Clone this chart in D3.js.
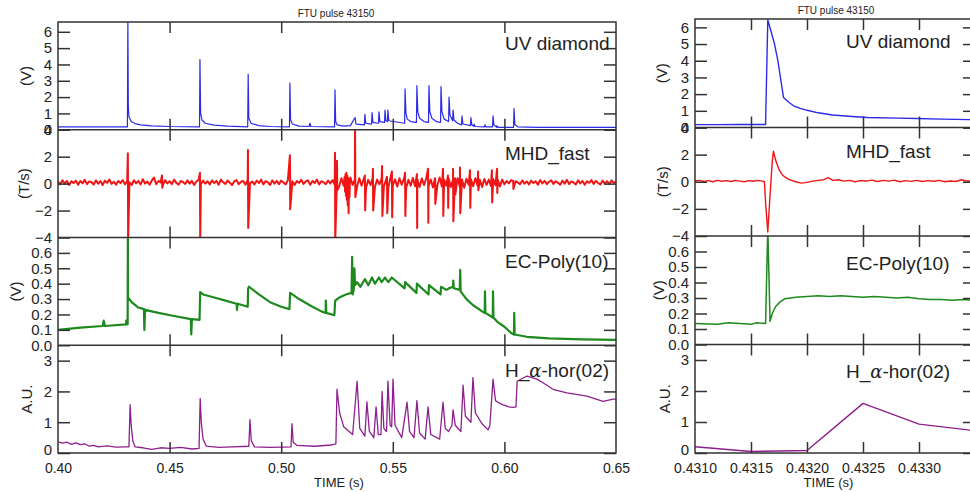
<!DOCTYPE html>
<html>
<head>
<meta charset="utf-8">
<script src="https://cdn.jsdelivr.net/npm/d3@7"></script>
<style>
  body { margin: 0; background: #fff; }
  svg { display: block; }
  text { font-family: "Liberation Sans", Arial, Helvetica, sans-serif; fill: #222; }
</style>
</head>
<body>
<svg id="chart" width="970" height="492"></svg>
<script>
// ---------- data: left panel (whole pulse) ----------
const uvLeft = [
  [0.400,0.18],[0.4311,0.18],[0.4313,6.8],[0.4315,1.4],[0.4318,0.8],[0.4328,0.5],[0.4345,0.38],[0.437,0.3],[0.442,0.24],[0.450,0.2],[0.4634,0.18],
  [0.4636,4.3],[0.4639,1.0],[0.4645,0.6],[0.466,0.4],[0.470,0.28],[0.476,0.22],[0.485,0.18],
  [0.4852,3.4],[0.4855,0.7],[0.4865,0.4],[0.490,0.25],[0.495,0.2],[0.5037,0.18],
  [0.5039,2.85],[0.5042,0.6],[0.505,0.35],[0.508,0.22],[0.5125,0.2],[0.5129,0.4],[0.5133,0.2],[0.5239,0.18],
  [0.5241,2.45],[0.5244,0.5],[0.525,0.3],[0.528,0.22],[0.531,0.25],
  [0.5331,0.75],[0.5335,0.35],[0.5373,0.3],[0.5375,0.95],[0.5379,0.4],[0.5405,0.35],[0.5407,1.05],[0.5411,0.45],
  [0.5436,0.4],[0.5438,1.1],[0.5442,0.5],[0.5463,0.45],[0.5465,1.2],[0.5469,0.55],[0.5476,0.5],[0.5478,1.2],[0.5482,0.55],
  [0.5553,0.4],[0.5555,2.5],[0.5559,1.0],[0.5565,0.65],[0.558,0.5],[0.5606,0.45],[0.5608,2.7],[0.5612,1.1],[0.562,0.7],
  [0.564,0.5],[0.566,0.45],[0.5662,2.7],[0.5666,1.1],[0.5675,0.7],[0.5695,0.5],[0.5714,0.45],[0.5716,2.65],[0.572,1.1],
  [0.573,0.65],[0.575,0.5],[0.5752,2.0],[0.5756,0.9],[0.5768,0.55],[0.577,1.2],[0.5774,0.6],[0.579,0.4],[0.5808,0.3],
  [0.581,0.85],[0.5814,0.35],[0.5848,0.25],[0.585,0.75],[0.5854,0.3],[0.5862,0.22],[0.5864,0.35],[0.5868,0.2],
  [0.5911,0.18],[0.5913,0.3],[0.5917,0.18],[0.5947,0.18],[0.5949,0.85],[0.5953,0.3],[0.5965,0.15],[0.5967,0.25],[0.5971,0.15],
  [0.6041,0.15],[0.6043,1.3],[0.6047,0.3],[0.606,0.18],[0.615,0.15],[0.650,0.15]
];

// MHD_fast noise, one value per ms from 0.400 s to 0.650 s
const mhdStart = 0.400, mhdStep = 0.001;
const mhdNoise = [
  .15,-.05,.25,0,.2,-.1,.18,.05,.22,-.08,
  .2,.02,.28,-.04,.16,.1,-.06,.24,0,.19,
  -.1,.22,.06,.3,-.02,.14,-.08,.2,.04,.26,
  -.05,.18,.1,-.1,.25,.02,.2,-.06,.32,0,
  .16,-.08,.22,.45,-.05,.2,.08,-.1,.26,.02,
  .18,-.04,.3,.06,-.08,.2,.12,-.02,.24,0,
  .2,-.1,.16,.28,-.04,.22,0,.18,-.06,.24,
  .04,.2,-.08,.3,.1,-.02,.22,.06,-.1,.18,
  .26,-.04,.14,.2,-.08,.28,.02,.16,-.06,.22,
  .05,.3,-.05,.18,.1,-.1,.24,0,.2,-.04,
  .22,.08,-.06,.26,.02,.18,-.1,.2,.06,.28,
  -.02,.16,.24,-.08,.2,.04,.3,-.06,.18,.1,
  -.04,.22,.02,.26,-.08,
  .35,-.2,.4,-.15,.3,-.25,.45,-.1,.3,-.2,
  .4,-.15,.35,-.3,.28,-.1,.42,-.25,.3,-.05,
  .38,-.2,.3,-.28,.45,-.12,.32,-.22,.4,-.08,
  .35,-.3,.28,-.15,.42,-.2,.3,-.25,.38,-.1,
  .4,-.18,.3,-.28,.35,-.1,.45,-.22,.28,-.15,
  .38,-.25,.32,-.12,.4,-.2,.3,-.3,.36,-.08,
  .32,-.2,.4,-.15,.28,-.25,.35,-.1,.3,-.18,
  .34,-.12,.28,-.2,.3,-.05,
  .2,.02,.26,-.06,.18,.08,-.04,.24,0,.16,
  -.06,.22,.04,.18,-.08,.26,.02,.2,-.04,.14,
  .24,-.02,.18,.06,-.08,.22,0,.28,-.04,.16,
  .08,-.06,.24,.02,.2,-.08,.18,.06,.26,-.02,
  .2,.04,-.06,.22,0,.18,-.04,.24,.06,.14
];
// MHD_fast spikes: [time, max, min]
const mhdSpikes = [
  [0.4313,2.25,-4.2],[0.4466,0.6,-0.3],[0.4636,0.8,-4.2],[0.4851,2.5,-3.3],[0.5039,2.1,-1.9],
  [0.5241,2.3,-4.2],[0.5250,1.7,-0.5],[0.5331,4.2,-1.0],[0.5375,0.6,-2.0],[0.5411,1.1,-2.0],
  [0.5452,1.3,-2.4],[0.5474,0.5,-2.2],[0.5496,0.9,-2.5],[0.5555,0.8,-2.4],[0.5608,0.7,-3.3],
  [0.5658,1.1,-2.9],[0.5689,0.4,-1.5],[0.5725,1.1,-2.4],[0.5747,0.6,-1.8],[0.5770,1.1,-2.8],
  [0.5779,0.4,-0.8],[0.5801,1.2,-2.2],[0.5846,1.0,-1.8],[0.5882,0.9,-0.5],[0.5944,1.0,-1.4],
  [0.5967,1.1,-0.7],[0.6039,0.2,-0.4]
];
// MHD_fast burst near 0.53 s
const mhdBurst = [
  [0.5284,0.5],[0.5286,-0.6],[0.5288,0.7],[0.5290,-0.9],[0.5292,0.8],[0.5294,-1.2],[0.5296,0.6],
  [0.5298,-1.6],[0.5300,0.4],[0.5302,-2.2],[0.5304,0.2],[0.5306,-1.0],[0.5308,0.3]
];

const ecLeft = [
  [0.400,0.10],[0.410,0.115],[0.420,0.125],[0.4205,0.16],[0.421,0.125],[0.4305,0.135],[0.4306,0.16],[0.4308,0.135],
  [0.4312,0.137],[0.4313,0.75],[0.4314,0.31],[0.433,0.28],[0.436,0.245],[0.4385,0.235],[0.4387,0.10],[0.439,0.23],
  [0.445,0.21],[0.452,0.19],[0.4595,0.17],[0.4597,0.07],[0.460,0.17],[0.4634,0.165],[0.4637,0.345],[0.465,0.33],
  [0.470,0.31],[0.475,0.29],[0.480,0.27],[0.4802,0.23],[0.4805,0.27],[0.485,0.25],[0.4852,0.37],[0.4856,0.38],
  [0.490,0.33],[0.495,0.28],[0.500,0.25],[0.5037,0.235],[0.504,0.34],[0.508,0.3],[0.514,0.25],[0.518,0.22],
  [0.5199,0.21],[0.520,0.29],[0.5202,0.21],[0.5238,0.195],[0.5242,0.29],[0.526,0.31],[0.529,0.33],[0.5315,0.34],
  [0.5318,0.575],[0.532,0.33],[0.5325,0.36],[0.5328,0.5],[0.5331,0.39],[0.534,0.41],[0.5355,0.38],[0.5375,0.43],
  [0.539,0.39],[0.5407,0.44],[0.542,0.4],[0.5438,0.44],[0.545,0.41],[0.5465,0.44],[0.548,0.41],[0.5495,0.44],
  [0.5553,0.37],[0.5555,0.41],[0.5606,0.34],[0.5608,0.40],[0.566,0.33],[0.5662,0.39],[0.5714,0.33],[0.5716,0.38],
  [0.574,0.36],[0.5752,0.37],[0.577,0.38],[0.5771,0.42],[0.5773,0.37],[0.580,0.36],[0.5802,0.49],[0.5804,0.35],
  [0.583,0.3],[0.586,0.26],[0.590,0.22],[0.5912,0.21],[0.5913,0.35],[0.5915,0.21],[0.5948,0.18],[0.5949,0.35],
  [0.5951,0.18],[0.597,0.15],[0.600,0.12],[0.603,0.08],[0.6043,0.07],[0.6044,0.21],[0.6046,0.07],[0.610,0.055],
  [0.620,0.045],[0.635,0.038],[0.650,0.035]
];

const haLeft = [
  [0.400,0.36],[0.402,0.32],[0.404,0.35],[0.406,0.28],[0.408,0.33],[0.410,0.27],[0.412,0.3],[0.414,0.22],[0.416,0.25],
  [0.418,0.2],[0.422,0.23],[0.426,0.19],[0.430,0.2],[0.4318,0.2],[0.4323,1.57],[0.4328,0.9],[0.4335,0.4],[0.4345,0.2],
  [0.438,0.17],[0.442,0.12],[0.446,0.17],[0.450,0.15],[0.455,0.18],[0.460,0.13],[0.4632,0.15],[0.4637,1.77],[0.4642,1.0],
  [0.465,0.45],[0.4665,0.22],[0.472,0.18],[0.478,0.2],[0.4855,0.22],[0.486,1.08],[0.4866,0.4],[0.488,0.2],[0.495,0.18],
  [0.5044,0.2],[0.5048,0.95],[0.5054,0.35],[0.507,0.25],[0.515,0.22],[0.5225,0.26],[0.5245,0.3],[0.525,2.07],[0.5262,1.3],
  [0.528,0.85],[0.532,0.6],[0.534,2.33],[0.5352,0.8],[0.5375,0.55],[0.5384,1.66],[0.5395,0.7],[0.5415,0.5],[0.5425,1.5],
  [0.5435,0.6],[0.5447,0.6],[0.5452,2.0],[0.546,0.8],[0.5472,0.7],[0.5478,2.33],[0.5488,0.9],[0.5495,0.85],[0.5501,2.4],
  [0.551,0.9],[0.554,0.5],[0.5564,1.65],[0.5575,0.7],[0.5595,0.5],[0.5608,1.7],[0.562,0.65],[0.5645,0.45],[0.5658,1.5],
  [0.567,0.6],[0.571,0.45],[0.5725,1.65],[0.5735,0.8],[0.575,0.7],[0.5765,0.9],[0.577,1.4],[0.578,0.9],[0.5805,0.7],
  [0.5815,2.2],[0.5825,1.2],[0.585,1.0],[0.5859,2.45],[0.587,1.3],[0.590,0.95],[0.5927,0.75],[0.5935,0.9],[0.5949,2.4],
  [0.596,1.7],[0.5971,1.65],[0.5989,1.58],[0.602,1.5],[0.6039,1.48],[0.6052,1.5],[0.6057,2.33],[0.6101,2.5],[0.6146,2.4],
  [0.618,2.25],[0.6218,2.07],[0.628,1.95],[0.637,1.85],[0.6442,1.68],[0.6487,1.75],[0.650,1.75]
];

// ---------- data: right panel (zoom on first crash) ----------
const uvRight = [
  [0.4310,0.17],[0.4312,0.17],[0.4314,0.18],[0.43163,0.18],[0.43165,6.45],[0.43171,5.0],[0.43174,4.0],[0.43179,1.8],
  [0.43184,1.5],[0.43188,1.3],[0.43194,1.15],[0.4320,1.03],[0.4321,0.88],[0.43223,0.75],[0.4324,0.66],[0.43254,0.6],
  [0.4328,0.56],[0.43298,0.54],[0.4332,0.5],[0.4335,0.47]
];
const mhdRight = [
  [0.43100,.05],[0.43104,.1],[0.43108,.02],[0.43112,.08],[0.43116,0],[0.4312,.1],[0.43124,.04],[0.43128,.08],
  [0.43132,.02],[0.43136,.1],[0.4314,.05],[0.43144,0],[0.43148,.08],[0.43152,.04],[0.43156,.1],[0.4316,.05],
  [0.43162,0],[0.43163,-1.5],[0.43165,-3.7],[0.43167,-1.0],[0.43169,1.5],[0.4317,2.25],[0.43172,1.6],[0.43175,0.9],
  [0.43178,0.5],[0.43182,0.25],[0.43186,0.1],[0.4319,0],[0.43195,-0.1],[0.432,-0.05],[0.43205,.05],[0.4321,.1],
  [0.43215,.15],[0.43219,.3],[0.43223,.1],[0.43228,.15],[0.43233,.05],[0.43238,.1],[0.43243,0],[0.43248,.08],
  [0.43253,.05],[0.43258,.12],[0.43263,.02],[0.43268,.1],[0.43273,.05],[0.43278,.12],[0.43283,0],[0.43288,.08],
  [0.43293,.03],[0.43298,.1],[0.43303,.02],[0.43308,.08],[0.43313,.04],[0.43318,.1],[0.43323,0],[0.43328,.06],
  [0.43333,.02],[0.43338,.15],[0.43343,.05],[0.4335,.08]
];
const ecRight = [
  [0.4310,0.135],[0.4312,0.13],[0.4313,0.14],[0.4314,0.135],[0.4315,0.13],[0.43155,0.14],[0.43163,0.135],[0.43165,0.75],
  [0.43167,0.15],[0.43169,0.2],[0.43172,0.245],[0.43176,0.275],[0.4318,0.295],[0.4319,0.305],[0.432,0.31],[0.4321,0.315],
  [0.4322,0.31],[0.4323,0.315],[0.4324,0.31],[0.4325,0.305],[0.4326,0.31],[0.4327,0.305],[0.4328,0.3],[0.4329,0.305],
  [0.433,0.295],[0.4331,0.29],[0.4332,0.29],[0.4333,0.285],[0.4334,0.29],[0.4335,0.285]
];
const haRight = [[0.4310,0.2],[0.4315,0.05],[0.4320,0.08],[0.4325,1.6],[0.4330,0.93],[0.4335,0.72]];

const leftXTicks = [0.45, 0.50, 0.55, 0.60];
const leftXLabels = [0.40, 0.45, 0.50, 0.55, 0.60, 0.65];
const rightXTicks = [0.4315, 0.4320, 0.4325, 0.4330];
const rightXLabels = [0.4310, 0.4315, 0.4320, 0.4325, 0.4330];

const uvTicks = [0, 1, 2, 3, 4, 5, 6];
const mhdTicks = [-4, -2, 0, 2, 4];
const ecTicks = [0, 0.1, 0.2, 0.3, 0.4, 0.5, 0.6];
const haTicks = [0, 1, 2, 3];

// merge noise, spikes and burst into one time-sorted MHD trace
const mhdLeft = mhdNoise.map((v, i) => [mhdStart + i * mhdStep, v]);
mhdSpikes.forEach(s => { mhdLeft.push([s[0], s[1]], [s[0] + 0.00012, s[2]]); });
mhdBurst.forEach(p => mhdLeft.push(p));
mhdLeft.sort((a, b) => a[0] - b[0]);

const svg = d3.select("#chart");
const axisColor = "#333";

function rows(uv, mhd, ec, ha, uvMax, widths) {
  return [
    { name: "UV diamond", unit: "(V)", domain: [0, uvMax], ticks: uvTicks, fmt: d3.format("d"), data: uv, color: "#2a2ae8", w: widths[0] },
    { name: "MHD_fast", unit: "(T/s)", domain: [-4, 4], ticks: mhdTicks, fmt: d3.format("d"), data: mhd, color: "#f01414", w: widths[1] },
    { name: "EC-Poly(10)", unit: "(V)", domain: [0, 0.7], ticks: ecTicks, fmt: d3.format(".1f"), data: ec, color: "#1c8a1c", w: widths[2] },
    { name: "ha", unit: "A.U.", domain: [0, 3.5], ticks: haTicks, fmt: d3.format("d"), data: ha, color: "#8e1f8e", w: widths[3] }
  ];
}

function drawChart(c) {
  const x = d3.scaleLinear().domain(c.xDomain).range(c.xRange);
  const rowH = (c.bottom - c.top) / c.rows.length;
  const g = svg.append("g");
  const [xl, xr] = c.xRange;

  g.append("text")
    .attr("x", c.titleX).attr("y", c.titleY)
    .attr("text-anchor", "middle").attr("font-size", 10)
    .text("FTU pulse 43150");

  c.rows.forEach((r, i) => {
    const y0 = c.top + i * rowH, y1 = y0 + rowH;
    const y = d3.scaleLinear().domain(r.domain).range([y1, y0]);
    const clipId = `clip-${c.id}-${i}`;

    g.append("clipPath").attr("id", clipId)
      .append("rect").attr("x", xl).attr("y", y0).attr("width", xr - xl).attr("height", rowH);

    const line = d3.line().x(d => x(d[0])).y(d => y(d[1]));
    g.append("path")
      .datum(r.data)
      .attr("clip-path", `url(#${clipId})`)
      .attr("fill", "none")
      .attr("stroke", r.color)
      .attr("stroke-width", r.w)
      .attr("stroke-linejoin", "round")
      .attr("d", line);

    // left y axis, ticks inward
    const ya = g.append("g").attr("transform", `translate(${xl},0)`)
      .call(d3.axisLeft(y).tickValues(r.ticks).tickFormat(r.fmt).tickSize(-12).tickSizeOuter(0).tickPadding(6));
    // right y axis, ticks inward, no labels
    const yb = g.append("g").attr("transform", `translate(${xr},0)`)
      .call(d3.axisRight(y).tickValues(r.ticks).tickFormat("").tickSize(-12).tickSizeOuter(0));
    // x ticks top and bottom of each row
    const xt = g.append("g").attr("transform", `translate(0,${y0})`)
      .call(d3.axisTop(x).tickValues(c.xTicks).tickFormat("").tickSize(-11).tickSizeOuter(0));
    const xb = g.append("g").attr("transform", `translate(0,${y1})`)
      .call(d3.axisBottom(x).tickValues(c.xTicks).tickFormat("").tickSize(-11).tickSizeOuter(0));

    [ya, yb, xt, xb].forEach(a => {
      a.select(".domain").remove();
      a.selectAll(".tick line").attr("stroke", axisColor).attr("stroke-width", 1.5);
    });
    ya.selectAll(".tick text").attr("font-size", 15).attr("font-family", null).attr("fill", "#1a1a1a");
    // lift the bottom zero a little so it clears the time labels
    if (i === c.rows.length - 1) {
      ya.selectAll(".tick text").filter(d => d === 0).attr("dy", "0.1em");
    }

    // unit label
    g.append("text")
      .attr("transform", `translate(${c.unitX[i]},${(y0 + y1) / 2}) rotate(-90)`)
      .attr("text-anchor", "middle").attr("font-size", 15)
      .text(r.unit);

    // series name
    const t = g.append("text")
      .attr("x", c.labelX).attr("y", y0 + c.labelDy[i])
      .attr("font-size", 19).attr("fill", "#111");
    if (r.name === "ha") {
      t.append("tspan").text("H_");
      t.append("tspan").attr("font-style", "italic").attr("font-family", "'DejaVu Serif', serif").attr("font-size", 18).text("α");
      t.append("tspan").text("-hor(02)");
    } else {
      t.text(r.name);
    }

    if (i > 0) {
      g.append("line")
        .attr("x1", xl).attr("x2", xr).attr("y1", y0).attr("y2", y0)
        .attr("stroke", axisColor).attr("stroke-width", 1.5);
    }
  });

  g.append("rect")
    .attr("x", xl).attr("y", c.top).attr("width", xr - xl).attr("height", c.bottom - c.top)
    .attr("fill", "none").attr("stroke", axisColor).attr("stroke-width", 1.5);

  const lab = g.append("g").attr("transform", `translate(0,${c.bottom})`)
    .call(d3.axisBottom(x).tickValues(c.xLabels).tickFormat(c.xFmt).tickSize(0).tickPadding(10));
  lab.select(".domain").remove();
  lab.selectAll(".tick text").attr("font-size", 14).attr("font-family", null).attr("fill", "#1a1a1a");

  g.append("text")
    .attr("x", (xl + Math.min(xr, 970)) / 2 + c.timeDx).attr("y", 487)
    .attr("text-anchor", "middle").attr("font-size", 13)
    .text("TIME (s)");
}

drawChart({
  id: "left", xDomain: [0.40, 0.65], xRange: [58, 616], top: 22, bottom: 453,
  xTicks: leftXTicks, xLabels: leftXLabels, xFmt: d3.format(".2f"),
  titleX: 336, titleY: 17, labelX: 505, labelDy: [28, 30, 30.5, 32],
  unitX: [31, 29, 21, 32], timeDx: 2,
  rows: rows(uvLeft, mhdLeft, ecLeft, haLeft, 6.6, [1.2, 2.0, 2.2, 1.3])
});

drawChart({
  id: "right", xDomain: [0.4310, 0.4335], xRange: [695, 975], top: 19, bottom: 453,
  xTicks: rightXTicks, xLabels: rightXLabels, xFmt: d3.format(".4f"),
  titleX: 836, titleY: 14, labelX: 846, labelDy: [29, 30.5, 34, 33.5],
  unitX: [667, 668, 664, 670], timeDx: -4,
  rows: rows(uvRight, mhdRight, ecRight, haRight, 6.5, [1.4, 1.4, 1.5, 1.4])
});
</script>
</body>
</html>
